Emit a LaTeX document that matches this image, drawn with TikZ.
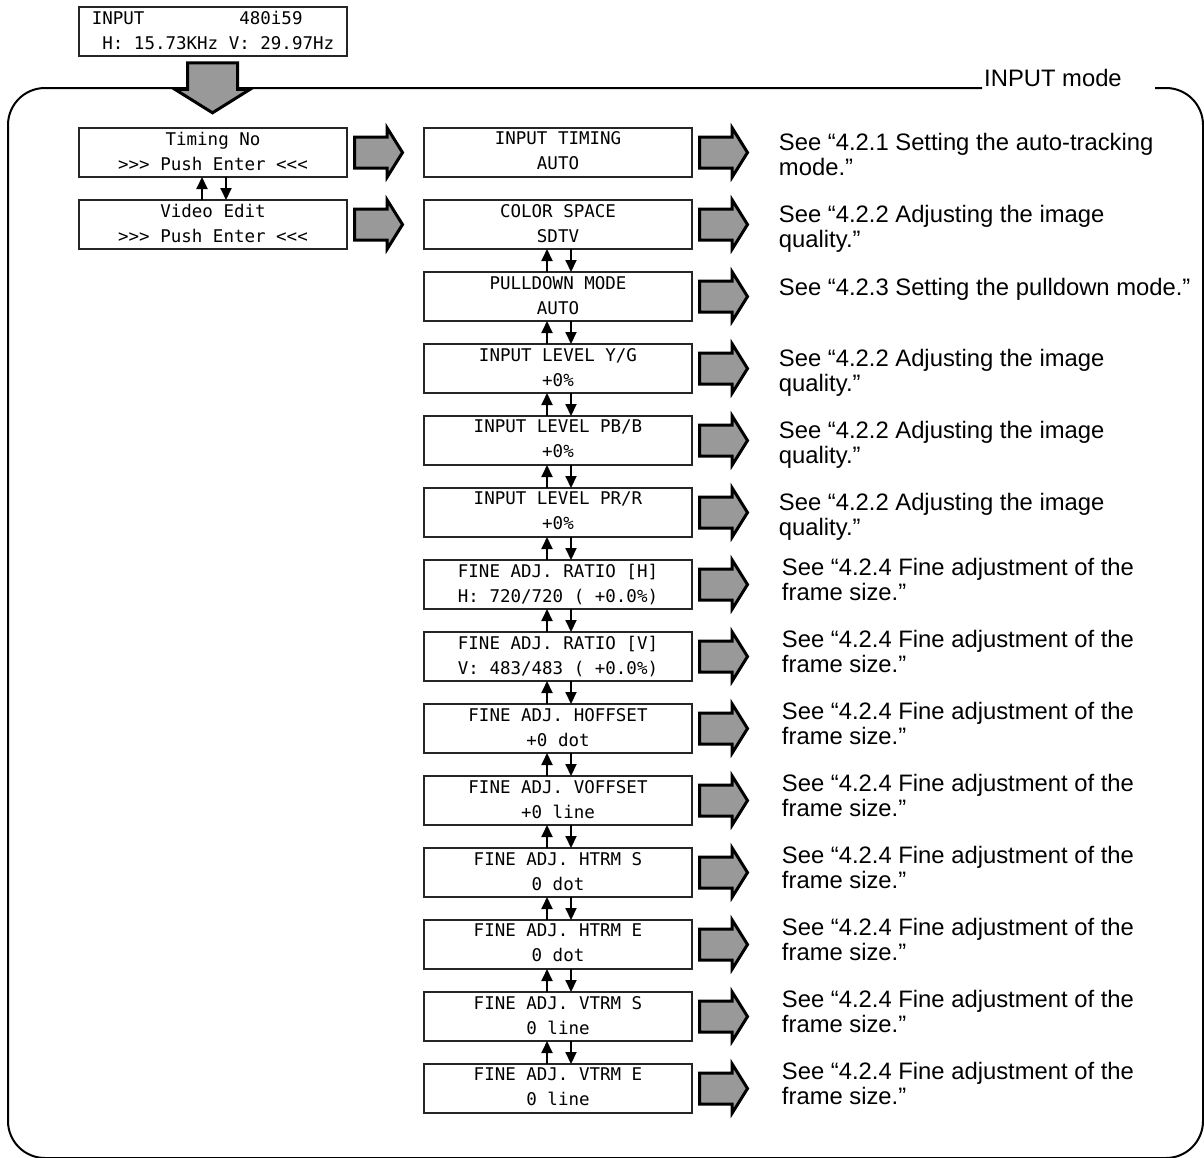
\documentclass[tikz,border=0pt]{standalone}
\usepackage{fontspec}
\setmainfont{Liberation Sans}
\newfontfamily\lcdfont{DejaVu Sans Mono}[Ligatures=TeXOff]
\usepackage{tikz}
\usetikzlibrary{shapes.arrows, arrows.meta, positioning}
\tikzset{
    lcdbox/.style={rectangle, draw=black!85, line width=1.2pt, fill=white, minimum width=268pt, minimum height=49pt, inner sep=0pt, outer sep=0pt, align=center, font=\lcdfont\fontsize{17.5pt}{25pt}\selectfont, execute at begin node=\rule{0pt}{27pt}, execute at end node=\rule[-3pt]{0pt}{3pt}},
    fatarrow/.style={single arrow, draw=black, line width=3pt, fill=black!40, minimum height=48pt, minimum width=46pt, inner sep=0pt, inner ysep=14pt, single arrow head extend=9pt, single arrow tip angle=116},
    seetext/.style={anchor=north west, inner sep=0pt, align=left, font=\fontsize{23.8pt}{25pt}\selectfont, execute at begin node=\rule{0pt}{18.5pt}},
    updown/.style={line width=2pt, -{Triangle[width=11pt,length=12pt]}},
    modeframe/.style={line width=2pt, rounded corners=37pt}
}
\begin{document}
\begin{tikzpicture}[x=1pt, y=-1pt]
    \useasboundingbox (0,0) rectangle (1204,1157);

    % outer frame with its title
    \node[anchor=base west, inner sep=0pt, font=\fontsize{23.8pt}{25pt}\selectfont] (mode) at (984,86) {INPUT mode};
    \draw[modeframe] (982,88) -- (8,88) -- (8,1158) -- (1203,1158) -- (1203,88) -- (1155,88);

    % input status display
    \node[lcdbox, align=left] (inp) at (213,31.5) {INPUT~~~~~~~~~480i59\\~H: 15.73KHz V: 29.97Hz};
    \node[fatarrow, rotate=-90, minimum height=50pt, minimum width=72pt, inner ysep=23.5pt, single arrow head extend=12.5pt] (adown) at (212.5,80) {};

    % first menu level
    \node[lcdbox] (timing) at (213,152.5) {Timing No\\>>> Push Enter <<<};
    \node[lcdbox, below=23pt of timing] (video) {Video Edit\\>>> Push Enter <<<};
    \node[fatarrow, right=6pt of timing] (atiming) {};
    \node[fatarrow, right=6pt of video] (avideo) {};

    \draw[updown] ([xshift=-11pt]video.north) -- ([xshift=-11pt]timing.south);
    \draw[updown] ([xshift=13pt]timing.south) -- ([xshift=13pt]video.north);

    % second menu level
    \node[lcdbox] (itiming) at (558,152.5) {INPUT TIMING\\AUTO};
    \node[lcdbox, below=23pt of itiming] (cspace) {COLOR SPACE\\SDTV};
    \node[lcdbox, below=23pt of cspace] (pulldown) {PULLDOWN MODE\\AUTO};
    \node[lcdbox, below=23pt of pulldown] (levelyg) {INPUT LEVEL Y/G\\+0\%};
    \node[lcdbox, below=23pt of levelyg] (levelpb) {INPUT LEVEL PB/B\\+0\%};
    \node[lcdbox, below=23pt of levelpb] (levelpr) {INPUT LEVEL PR/R\\+0\%};
    \node[lcdbox, below=23pt of levelpr] (ratioh) {FINE ADJ. RATIO [H]\\H: 720/720 ( +0.0\%)};
    \node[lcdbox, below=23pt of ratioh] (ratiov) {FINE ADJ. RATIO [V]\\V: 483/483 ( +0.0\%)};
    \node[lcdbox, below=23pt of ratiov] (hoffset) {FINE ADJ. HOFFSET\\+0 dot};
    \node[lcdbox, below=23pt of hoffset] (voffset) {FINE ADJ. VOFFSET\\+0 line};
    \node[lcdbox, below=23pt of voffset] (htrms) {FINE ADJ. HTRM S\\0 dot};
    \node[lcdbox, below=23pt of htrms] (htrme) {FINE ADJ. HTRM E\\0 dot};
    \node[lcdbox, below=23pt of htrme] (vtrms) {FINE ADJ. VTRM S\\0 line};
    \node[lcdbox, below=23pt of vtrms] (vtrme) {FINE ADJ. VTRM E\\0 line};

    \node[fatarrow, right=6pt of itiming] (aitiming) {};
    \node[fatarrow, right=6pt of cspace] (acspace) {};
    \node[fatarrow, right=6pt of pulldown] (apulldown) {};
    \node[fatarrow, right=6pt of levelyg] (alevelyg) {};
    \node[fatarrow, right=6pt of levelpb] (alevelpb) {};
    \node[fatarrow, right=6pt of levelpr] (alevelpr) {};
    \node[fatarrow, right=6pt of ratioh] (aratioh) {};
    \node[fatarrow, right=6pt of ratiov] (aratiov) {};
    \node[fatarrow, right=6pt of hoffset] (ahoffset) {};
    \node[fatarrow, right=6pt of voffset] (avoffset) {};
    \node[fatarrow, right=6pt of htrms] (ahtrms) {};
    \node[fatarrow, right=6pt of htrme] (ahtrme) {};
    \node[fatarrow, right=6pt of vtrms] (avtrms) {};
    \node[fatarrow, right=6pt of vtrme] (avtrme) {};

    \draw[updown] ([xshift=-11pt]pulldown.north) -- ([xshift=-11pt]cspace.south);
    \draw[updown] ([xshift=13pt]cspace.south) -- ([xshift=13pt]pulldown.north);
    \draw[updown] ([xshift=-11pt]levelyg.north) -- ([xshift=-11pt]pulldown.south);
    \draw[updown] ([xshift=13pt]pulldown.south) -- ([xshift=13pt]levelyg.north);
    \draw[updown] ([xshift=-11pt]levelpb.north) -- ([xshift=-11pt]levelyg.south);
    \draw[updown] ([xshift=13pt]levelyg.south) -- ([xshift=13pt]levelpb.north);
    \draw[updown] ([xshift=-11pt]levelpr.north) -- ([xshift=-11pt]levelpb.south);
    \draw[updown] ([xshift=13pt]levelpb.south) -- ([xshift=13pt]levelpr.north);
    \draw[updown] ([xshift=-11pt]ratioh.north) -- ([xshift=-11pt]levelpr.south);
    \draw[updown] ([xshift=13pt]levelpr.south) -- ([xshift=13pt]ratioh.north);
    \draw[updown] ([xshift=-11pt]ratiov.north) -- ([xshift=-11pt]ratioh.south);
    \draw[updown] ([xshift=13pt]ratioh.south) -- ([xshift=13pt]ratiov.north);
    \draw[updown] ([xshift=-11pt]hoffset.north) -- ([xshift=-11pt]ratiov.south);
    \draw[updown] ([xshift=13pt]ratiov.south) -- ([xshift=13pt]hoffset.north);
    \draw[updown] ([xshift=-11pt]voffset.north) -- ([xshift=-11pt]hoffset.south);
    \draw[updown] ([xshift=13pt]hoffset.south) -- ([xshift=13pt]voffset.north);
    \draw[updown] ([xshift=-11pt]htrms.north) -- ([xshift=-11pt]voffset.south);
    \draw[updown] ([xshift=13pt]voffset.south) -- ([xshift=13pt]htrms.north);
    \draw[updown] ([xshift=-11pt]htrme.north) -- ([xshift=-11pt]htrms.south);
    \draw[updown] ([xshift=13pt]htrms.south) -- ([xshift=13pt]htrme.north);
    \draw[updown] ([xshift=-11pt]vtrms.north) -- ([xshift=-11pt]htrme.south);
    \draw[updown] ([xshift=13pt]htrme.south) -- ([xshift=13pt]vtrms.north);
    \draw[updown] ([xshift=-11pt]vtrme.north) -- ([xshift=-11pt]vtrms.south);
    \draw[updown] ([xshift=13pt]vtrms.south) -- ([xshift=13pt]vtrme.north);

    % references to the manual
    \node[seetext] (sitiming) at ([xshift=29.5pt, yshift=19.5pt]aitiming.tip) {See “4.2.1 Setting the auto-tracking\\mode.”};
    \node[seetext] (scspace) at ([xshift=29.5pt, yshift=19.5pt]acspace.tip) {See “4.2.2 Adjusting the image\\quality.”};
    \node[seetext] (spulldown) at ([xshift=29.5pt, yshift=19.5pt]apulldown.tip) {See “4.2.3 Setting the pulldown mode.”};
    \node[seetext] (slevelyg) at ([xshift=29.5pt, yshift=19.5pt]alevelyg.tip) {See “4.2.2 Adjusting the image\\quality.”};
    \node[seetext] (slevelpb) at ([xshift=29.5pt, yshift=19.5pt]alevelpb.tip) {See “4.2.2 Adjusting the image\\quality.”};
    \node[seetext] (slevelpr) at ([xshift=29.5pt, yshift=19.5pt]alevelpr.tip) {See “4.2.2 Adjusting the image\\quality.”};
    \node[seetext] (sratioh) at ([xshift=32.5pt, yshift=26.5pt]aratioh.tip) {See “4.2.4 Fine adjustment of the\\frame size.”};
    \node[seetext] (sratiov) at ([xshift=32.5pt, yshift=26.5pt]aratiov.tip) {See “4.2.4 Fine adjustment of the\\frame size.”};
    \node[seetext] (shoffset) at ([xshift=32.5pt, yshift=26.5pt]ahoffset.tip) {See “4.2.4 Fine adjustment of the\\frame size.”};
    \node[seetext] (svoffset) at ([xshift=32.5pt, yshift=26.5pt]avoffset.tip) {See “4.2.4 Fine adjustment of the\\frame size.”};
    \node[seetext] (shtrms) at ([xshift=32.5pt, yshift=26.5pt]ahtrms.tip) {See “4.2.4 Fine adjustment of the\\frame size.”};
    \node[seetext] (shtrme) at ([xshift=32.5pt, yshift=26.5pt]ahtrme.tip) {See “4.2.4 Fine adjustment of the\\frame size.”};
    \node[seetext] (svtrms) at ([xshift=32.5pt, yshift=26.5pt]avtrms.tip) {See “4.2.4 Fine adjustment of the\\frame size.”};
    \node[seetext] (svtrme) at ([xshift=32.5pt, yshift=26.5pt]avtrme.tip) {See “4.2.4 Fine adjustment of the\\frame size.”};
\end{tikzpicture}
\end{document}
